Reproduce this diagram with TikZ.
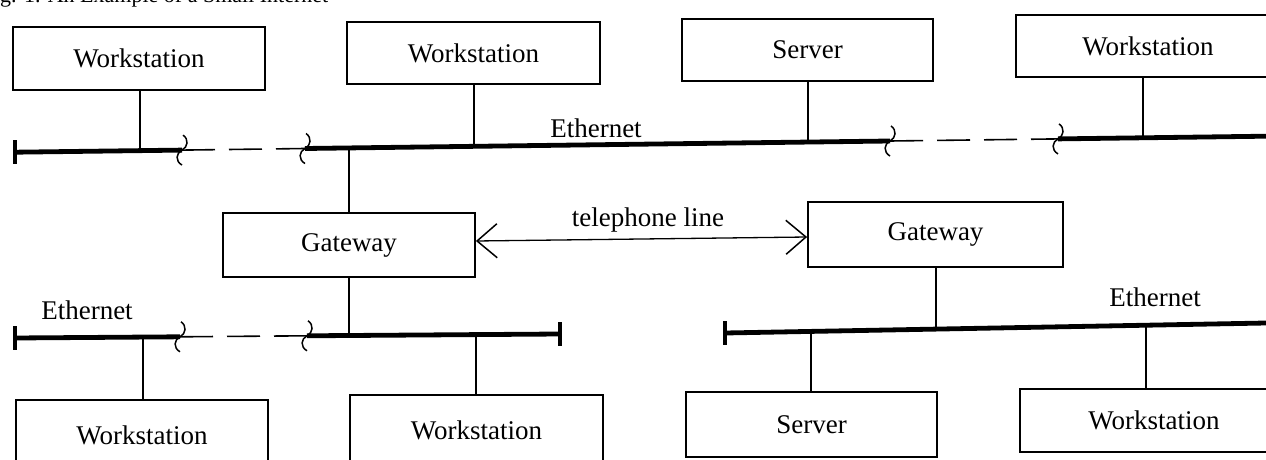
\documentclass[tikz,border=0pt]{standalone}
\usepackage{fontspec}
\setmainfont{Liberation Serif}
\usetikzlibrary{arrows.meta}
\tikzset{
  box/.style={draw, line width=1.8pt, rectangle, inner sep=0pt, font=\fontsize{27}{31}\selectfont},
  lbl/.style={inner sep=0pt, font=\fontsize{27}{31}\selectfont},
  bus/.style={line width=4.8pt},
  busdash/.style={line width=1.6pt, dash pattern=on 33pt off 14pt},
  link/.style={line width=1.3pt},
  endbar/.style={line width=4pt},
  brk/.pic={\draw[line width=1.5pt] (1,-15) .. controls (7,-11) and (6,-3) .. (0,0) .. controls (-6,3) and (-7,11) .. (0,15);},
  tel/.style={line width=1.3pt, {Straight Barb[length=20pt,width=34pt,line width=1.5pt]}-{Straight Barb[length=20pt,width=34pt,line width=1.5pt]}}
}
\begin{document}
\begin{tikzpicture}[x=1pt,y=-1pt]
\useasboundingbox (0,0) rectangle (1266,460);
\fill[white] (0,0) rectangle (1266,460);

% caption (cut off at top, as in the reference)
\node[anchor=base west, inner sep=0pt, font=\fontsize{22}{26}\selectfont] (cap) at (0,3) {g. 1. An Example of a Small Internet};

% top row boxes
\node[box, minimum width=252pt, minimum height=63pt] (ws1) at (139,58.5) {Workstation};
\node[box, minimum width=253pt, minimum height=62pt] (ws2) at (473.5,53) {Workstation};
\node[box, minimum width=251pt, minimum height=62pt] (srv1) at (807.5,50) {Server};
\node[box, minimum width=264pt, minimum height=62pt] (ws3) at (1148,46) {Workstation};

% gateways
\node[box, minimum width=252pt, minimum height=64pt] (gwL) at (349,245) {Gateway};
\node[box, minimum width=255pt, minimum height=65pt] (gwR) at (935.5,234.5) {Gateway};

% bottom row boxes
\node[box, minimum width=252pt, minimum height=70pt] (ws4) at (142,435) {Workstation};
\node[box, minimum width=253pt, minimum height=70pt] (ws5) at (476.5,430) {Workstation};
\node[box, minimum width=251pt, minimum height=65pt] (srv2) at (811.5,424.5) {Server};
\node[box, minimum width=268pt, minimum height=63pt] (ws6) at (1154,420.5) {Workstation};

% labels
\node[lbl] (e1) at (596,128) {Ethernet};
\node[lbl] (e2) at (87,310) {Ethernet};
\node[lbl] (e3) at (1155,297) {Ethernet};
\node[lbl] (tl) at (648,220) {telephone line};

% top bus coordinates
\coordinate (a0) at (15,152.2);
\coordinate (a1) at (182,150.1);
\coordinate (a2) at (305,148.5);
\coordinate (a3) at (890,141.0);
\coordinate (a4) at (1058,138.9);
\coordinate (a5) at (1266,136.2);
\draw[bus] (a0) -- (a1);
\draw[busdash] (a1) -- (a2);
\draw[bus] (a2) -- (a3);
\draw[busdash] (a3) -- (a4);
\draw[bus] (a4) -- (a5);
\draw[endbar] ([yshift=12pt]a0) -- ([yshift=-12pt]a0);
\pic at (a1) {brk};
\pic at (a2) {brk};
\pic at (a3) {brk};
\pic at (a4) {brk};

\coordinate (t1) at (140,150.6);
\coordinate (t2) at (474,146.4);
\coordinate (t3) at (808,142.1);
\coordinate (t4) at (1143,137.8);
\coordinate (t5) at (349,147.9);
\draw[link] (t1 |- ws1.south) -- (t1);
\draw[link] (t2 |- ws2.south) -- (t2);
\draw[link] (t3 |- srv1.south) -- (t3);
\draw[link] (t4 |- ws3.south) -- (t4);
\draw[link] (t5) -- (t5 |- gwL.north);

% bottom-left bus
\coordinate (b0) at (15,338.0);
\coordinate (b1) at (180,336.8);
\coordinate (b2) at (307,335.8);
\coordinate (b3) at (560,334.0);
\draw[bus] (b0) -- (b1);
\draw[busdash] (b1) -- (b2);
\draw[bus] (b2) -- (b3);
\draw[endbar] ([yshift=12pt]b0) -- ([yshift=-12pt]b0);
\draw[endbar] ([yshift=12pt]b3) -- ([yshift=-12pt]b3);
\pic at (b1) {brk};
\pic at (b2) {brk};
\coordinate (u1) at (349,335.5);
\coordinate (u2) at (143,337.2);
\coordinate (u3) at (476,334.8);
\draw[link] (u1 |- gwL.south) -- (u1);
\draw[link] (u2) -- (u2 |- ws4.north);
\draw[link] (u3) -- (u3 |- ws5.north);

% bottom-right bus
\coordinate (c0) at (725,333.0);
\coordinate (c1) at (1266,323.0);
\draw[bus] (c0) -- (c1);
\draw[endbar] ([yshift=12pt]c0) -- ([yshift=-12pt]c0);
\coordinate (v1) at (936,329.1);
\coordinate (v2) at (811,331.4);
\coordinate (v3) at (1146,325.2);
\draw[link] (v1 |- gwR.south) -- (v1);
\draw[link] (v2) -- (v2 |- srv2.north);
\draw[link] (v3) -- (v3 |- ws6.north);

% telephone line
\draw[tel] ([yshift=4pt]gwL.east) -- ([yshift=-2.5pt]gwR.west);
\end{tikzpicture}
\end{document}
